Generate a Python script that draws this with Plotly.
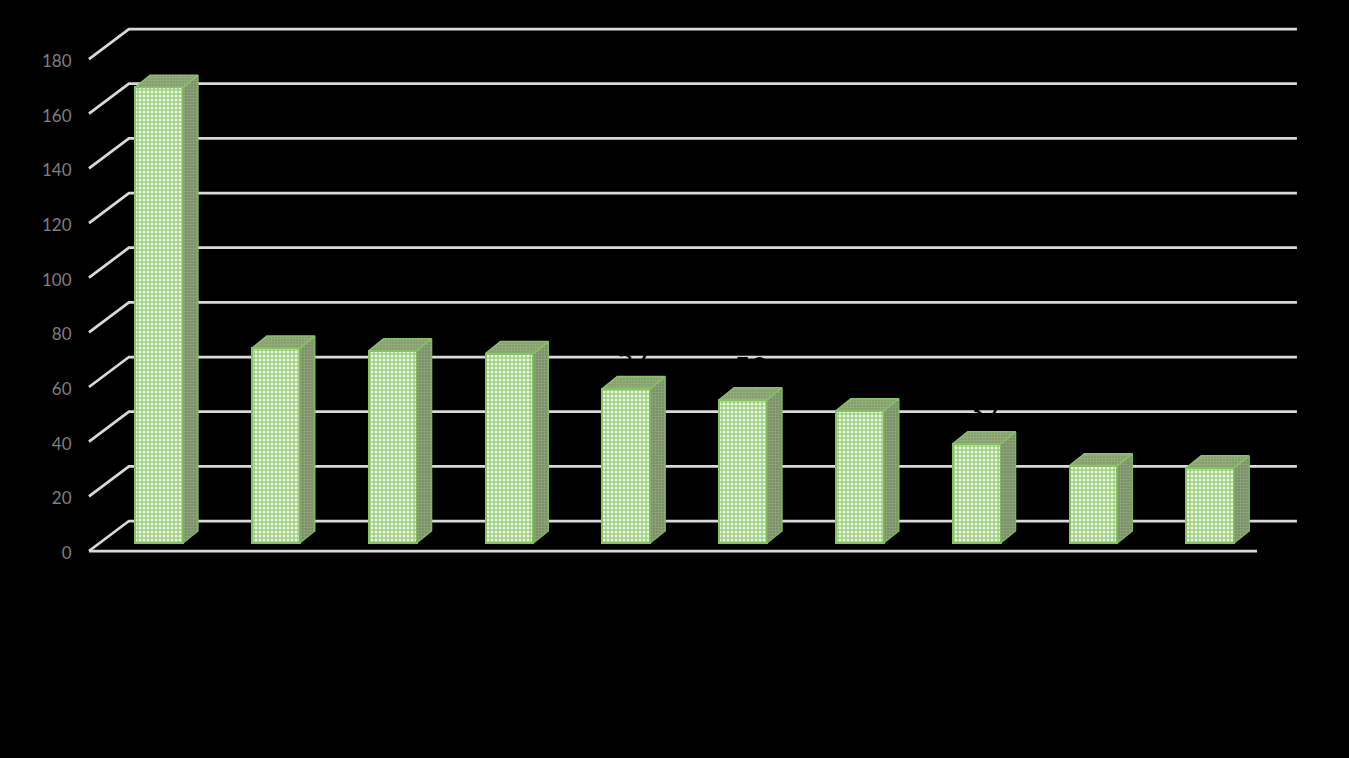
import plotly.graph_objects as go

values = [166.7, 71.3, 70.3, 69.3, 56.5, 52.4, 48.4, 36.3, 28.3, 27.5]
labels = ["167", "71", "70", "69", "57", "53", "49", "37", "29", "28"]
y_ticks = [0, 20, 40, 60, 80, 100, 120, 140, 160, 180]

# pseudo-3D geometry in axis units
wall_dx = 0.342
wall_dy = 10.98
bar_shift = 0.1
bar_lift = 2.93
bar_w = 0.41
bar_dx = 0.128
bar_dy = 4.4

GRID = "#D9D9D9"
x_range = [-0.594, 9.954]
y_range = [-6.95, 197.95]

fig = go.Figure()

for v in y_ticks:
    fig.add_trace(go.Scatter(
        x=[-0.5, -0.5 + wall_dx, 9.5 + wall_dx],
        y=[v, v + wall_dy, v + wall_dy],
        mode="lines", line=dict(color=GRID, width=2.75),
        hoverinfo="skip", showlegend=False,
    ))
fig.add_trace(go.Scatter(
    x=[-0.5, 9.5], y=[0, 0], mode="lines",
    line=dict(color=GRID, width=2.75), hoverinfo="skip", showlegend=False,
))

centers = [i + bar_shift for i in range(len(values))]

# front faces, on an overlay so they sit above the wall lines
fig.add_trace(go.Bar(
    x=centers, y=values, base=bar_lift, width=bar_w,
    xaxis="x2", yaxis="y2", showlegend=False,
    marker=dict(
        color="#A5D388",
        line=dict(color="#84C55F", width=2),
        pattern=dict(shape=".", bgcolor="#9CCF7D", fgcolor="#EEF7E6",
                     size=4, solidity=0.45, fillmode="replace"),
    ),
))

for c, v in zip(centers, values):
    left = c - bar_w / 2
    right = c + bar_w / 2
    top = v + bar_lift
    # side face
    fig.add_trace(go.Scatter(
        x=[right, right + bar_dx, right + bar_dx, right, right],
        y=[bar_lift, bar_lift + bar_dy, top + bar_dy, top, bar_lift],
        mode="lines", fill="toself", xaxis="x2", yaxis="y2",
        fillcolor="#7F9468",
        fillpattern=dict(shape=".", bgcolor="#748A5E", fgcolor="#B0BFA4", size=3, solidity=0.5),
        line=dict(color="#7DB95A", width=1.5), hoverinfo="skip", showlegend=False,
    ))
    # top face
    fig.add_trace(go.Scatter(
        x=[left, left + bar_dx, right + bar_dx, right, left],
        y=[top, top + bar_dy, top + bar_dy, top, top],
        mode="lines", fill="toself", xaxis="x2", yaxis="y2",
        fillcolor="#8DA673",
        fillpattern=dict(shape=".", bgcolor="#7F9A65", fgcolor="#AFC39E", size=3, solidity=0.5),
        line=dict(color="#84C55F", width=1.5), hoverinfo="skip", showlegend=False,
    ))

# data labels are black on black, only visible where they cut the wall lines
fig.add_trace(go.Scatter(
    x=[c + bar_dx / 2 for c in centers],
    y=[v + bar_lift + bar_dy + 0.3 for v in values],
    text=labels, mode="text", textposition="top center",
    textfont=dict(family="Lato", size=30, color="#000000"),
    xaxis="x2", yaxis="y2", hoverinfo="skip", showlegend=False,
))

fig.update_layout(
    width=1349, height=758, autosize=False,
    margin=dict(l=78, r=39, t=10, b=188),
    paper_bgcolor="#000000", plot_bgcolor="#000000",
    xaxis=dict(range=x_range, visible=False, fixedrange=True),
    yaxis=dict(
        range=y_range, tickvals=y_ticks, showgrid=False, zeroline=False,
        showline=False, ticks="outside", ticklen=2, tickcolor="rgba(0,0,0,0)",
        ticklabelshift=2,
        tickfont=dict(family="Lato", size=17, color="#7F7F7F"),
    ),
    xaxis2=dict(range=x_range, overlaying="x", visible=False, fixedrange=True),
    yaxis2=dict(range=y_range, overlaying="y", visible=False),
    bargap=0,
)

# page margin would show as a white frame
fig.write_html(
    "out.html",
    config={"displayModeBar": False},
    post_script="document.body.style.margin='0';document.body.style.background='#000';",
)
